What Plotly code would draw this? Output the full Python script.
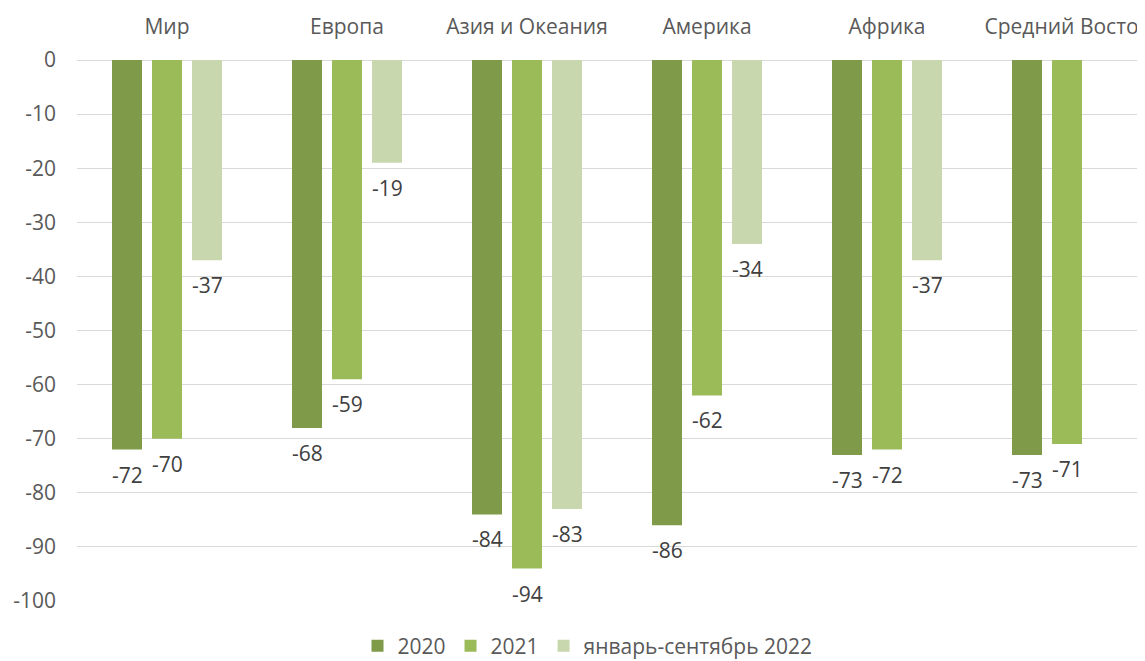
import plotly.graph_objects as go

categories = ["Мир", "Европа", "Азия и Океания", "Америка", "Африка", "Средний Восток"]
series_names = ["2020", "2021", "январь-сентябрь 2022"]
v2020 = [-72, -68, -84, -86, -73, -73]
v2021 = [-70, -59, -94, -62, -72, -71]
v2022 = [-37, -19, -83, -34, -37, None]
colors = ["#7f9a48", "#9bbb59", "#c8d7ad"]
y_ticks = [0, -10, -20, -30, -40, -50, -60, -70, -80, -90, -100]
y_ticktext = [str(v) for v in y_ticks]

fig = go.Figure()
all_series = [v2020, v2021, v2022]
for name, vals, col in zip(series_names, all_series, colors):
    fig.add_trace(go.Bar(
        x=categories, y=vals, name=name, marker=dict(color=col, line=dict(width=0)),
        cliponaxis=False,
    ))

slot_px = 40
for i, vals in enumerate(all_series):
    for cat, v in zip(categories, vals):
        if v is None:
            continue
        fig.add_annotation(x=cat, y=v, text=str(v), showarrow=False,
                           xanchor="center", yanchor="top",
                           xshift=(i - 1) * slot_px, yshift=-9,
                           font=dict(size=21, color="#404040", family="Open Sans"))

# page body has an 8px default margin, so the figure is offset to compensate
H = 661
fig.update_layout(
    width=1145, height=H,
    margin=dict(l=69, r=8, t=52, b=68),
    paper_bgcolor="white", plot_bgcolor="white",
    barmode="group", bargap=1/3, bargroupgap=0.25,
    font=dict(family="Open Sans", size=21, color="#595959"),
    showlegend=True,
    legend=dict(orientation="h", x=0.478, xanchor="center",
                yref="container", y=1 - 638 / H, yanchor="middle",
                font=dict(size=21, color="#595959"), traceorder="normal",
                itemwidth=30),
)
fig.update_xaxes(side="top", showgrid=False, showline=False, zeroline=False,
                 range=[-0.5, 5.5 - 12/180], ticks="", ticklabelstandoff=21,
                 automargin=False,
                 tickfont=dict(size=21, color="#595959"), fixedrange=True)
fig.update_yaxes(range=[-100, 0], tickvals=y_ticks, ticktext=y_ticktext,
                 showgrid=True, gridcolor="#d9d9d9",
                 gridwidth=1.3, zeroline=True, zerolinecolor="#d9d9d9", zerolinewidth=1.3,
                 showline=False, ticks="", ticklabelstandoff=20, automargin=False,
                 tickfont=dict(size=21, color="#595959"))

fig.write_html("out.html")
